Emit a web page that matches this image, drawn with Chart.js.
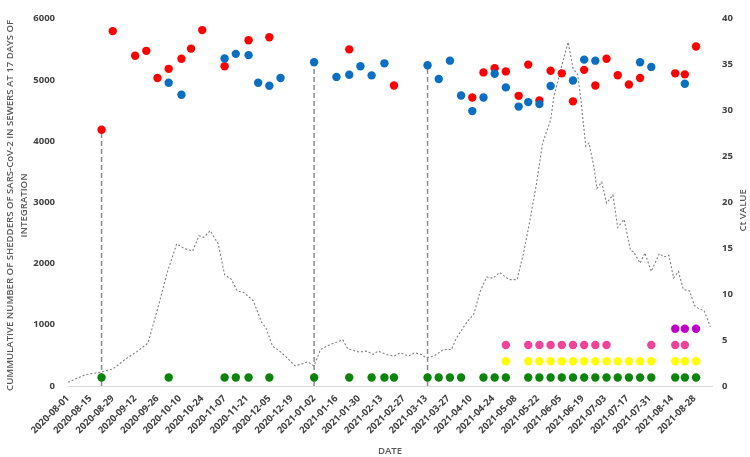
<!DOCTYPE html>
<html>
<head>
<meta charset="utf-8">
<script src="https://cdn.jsdelivr.net/npm/chart.js@4.4.1/dist/chart.umd.min.js"></script>
<style>
  html, body { margin: 0; padding: 0; background: #ffffff; }
  #wrap { width: 750px; height: 457px; position: relative; }
</style>
</head>
<body>
<div id="wrap"><canvas id="c"></canvas></div>
<script>
// ---------- DATA ----------
const tickDates = ['2020-08-01','2020-08-15','2020-08-29','2020-09-12','2020-09-26','2020-10-10','2020-10-24',
  '2020-11-07','2020-11-21','2020-12-05','2020-12-19','2021-01-02','2021-01-16','2021-01-30','2021-02-13',
  '2021-02-27','2021-03-13','2021-03-27','2021-04-10','2021-04-24','2021-05-08','2021-05-22','2021-06-05',
  '2021-06-19','2021-07-03','2021-07-17','2021-07-31','2021-08-14','2021-08-28'];

const shedderDates = ['2020-08-01','2020-08-12','2020-08-21','2020-08-29','2020-09-06','2020-09-13','2020-09-20',
  '2020-09-26','2020-10-02','2020-10-08','2020-10-13','2020-10-18','2020-10-22','2020-10-25','2020-10-29',
  '2020-11-03','2020-11-07','2020-11-11','2020-11-15','2020-11-19','2020-11-25','2020-11-30','2020-12-03',
  '2020-12-07','2020-12-11','2020-12-16','2020-12-21','2020-12-25','2020-12-29','2021-01-02','2021-01-06',
  '2021-01-12','2021-01-20','2021-01-23','2021-01-30','2021-02-04','2021-02-08','2021-02-11','2021-02-16',
  '2021-02-21','2021-02-25','2021-03-02','2021-03-06','2021-03-10','2021-03-13','2021-03-18','2021-03-24',
  '2021-03-29','2021-04-01','2021-04-07','2021-04-12','2021-04-16','2021-04-20','2021-04-24','2021-04-28',
  '2021-05-04','2021-05-09','2021-05-13','2021-05-17','2021-05-21','2021-05-25','2021-05-30','2021-06-01',
  '2021-06-05','2021-06-10','2021-06-13','2021-06-16','2021-06-18','2021-06-21','2021-06-23','2021-06-26',
  '2021-06-28','2021-07-01','2021-07-04','2021-07-08','2021-07-11','2021-07-15','2021-07-19','2021-07-21',
  '2021-07-25','2021-07-28','2021-08-01','2021-08-06','2021-08-09','2021-08-12','2021-08-15','2021-08-18',
  '2021-08-21','2021-08-25','2021-08-28','2021-08-31','2021-09-03','2021-09-07'];
const shedderValues = [60,186,223,277,440,560,700,
  1250,1844,2323,2243,2206,2455,2429,2535,
  2323,1817,1749,1553,1526,1393,1047,941,
  649,580,462,330,357,394,330,596,
  676,756,610,555,569,516,569,516,
  489,542,489,542,516,462,489,596,
  596,781,1020,1180,1550,1780,1760,1856,
  1738,1738,2163,2694,3279,3969,4342,4714,
  5140,5618,5192,5085,4661,3917,3969,3598,
  3227,3332,2987,3120,2589,2721,2216,2190,
  2004,2174,1871,2163,2110,2136,1765,1871,
  1578,1553,1314,1259,1234,968];

const redDates = ['2020-08-22','2020-08-29','2020-09-12','2020-09-19','2020-09-26','2020-10-03','2020-10-11',
  '2020-10-17','2020-10-24','2020-11-07','2020-11-22','2020-12-05','2021-01-24','2021-02-21','2021-04-11',
  '2021-04-18','2021-04-25','2021-05-02','2021-05-10','2021-05-16','2021-05-23','2021-05-30','2021-06-06',
  '2021-06-13','2021-06-20','2021-06-27','2021-07-04','2021-07-11','2021-07-18','2021-07-25','2021-08-16',
  '2021-08-22','2021-08-29'];
const redCt = [27.9,38.65,35.96,36.5,33.55,34.54,35.64,
  36.74,38.76,34.82,37.66,37.98,36.66,32.73,31.42,
  34.15,34.61,34.26,31.6,35.0,31.1,34.33,34.05,
  31.0,34.43,32.73,35.64,33.84,32.84,33.55,34.05,
  33.94,36.98];

const blueDates = ['2020-10-03','2020-10-11','2020-11-07','2020-11-14','2020-11-22','2020-11-28','2020-12-05',
  '2020-12-12','2021-01-02','2021-01-16','2021-01-24','2021-01-31','2021-02-07','2021-02-15','2021-03-14',
  '2021-03-21','2021-03-28','2021-04-04','2021-04-11','2021-04-18','2021-04-25','2021-05-02','2021-05-10',
  '2021-05-16','2021-05-23','2021-05-30','2021-06-13','2021-06-20','2021-06-27','2021-07-25','2021-08-01',
  '2021-08-22'];
const blueCt = [33.02,31.71,35.67,36.17,36.03,33.02,32.7,
  33.55,35.25,33.66,33.9,34.82,33.83,35.14,34.93,
  33.44,35.43,31.64,29.94,31.42,34.0,32.52,30.43,
  30.92,30.7,32.67,33.27,35.54,35.43,35.25,34.75,
  32.91];

const greenDates = ['2020-08-22','2020-10-03','2020-11-07','2020-11-14','2020-11-22','2020-12-05','2021-01-02',
  '2021-01-24','2021-02-07','2021-02-15','2021-02-21','2021-03-14','2021-03-21','2021-03-28','2021-04-04',
  '2021-04-18','2021-04-25','2021-05-02','2021-05-16','2021-05-23','2021-05-30','2021-06-06','2021-06-13',
  '2021-06-20','2021-06-27','2021-07-04','2021-07-11','2021-07-18','2021-07-25','2021-08-01','2021-08-16',
  '2021-08-22','2021-08-29'];
const yellowDates = ['2021-05-02','2021-05-16','2021-05-23','2021-05-30','2021-06-06','2021-06-13','2021-06-20',
  '2021-06-27','2021-07-04','2021-07-11','2021-07-18','2021-07-25','2021-08-01','2021-08-16','2021-08-22',
  '2021-08-29'];
const pinkDates = ['2021-05-02','2021-05-16','2021-05-23','2021-05-30','2021-06-06','2021-06-13','2021-06-20',
  '2021-06-27','2021-07-04','2021-08-01','2021-08-16','2021-08-22'];
const purpleDates = ['2021-08-16','2021-08-22','2021-08-29'];
const rowLevels = { green: 140, yellow: 405, pink: 670, purple: 935 };

const dashDates = ['2020-08-22','2021-01-02','2021-03-14'];
const dashTopCt = [27.9, 35.25, 34.93];

// ---------- HELPERS ----------
const DAY0 = Date.UTC(2020, 7, 1);
function dayOf(s) { const p = s.split('-').map(Number); return (Date.UTC(p[0], p[1] - 1, p[2]) - DAY0) / 86400000; }
function fmt(day) { return new Date(DAY0 + Math.round(day) * 86400000).toISOString().slice(0, 10); }
const pts = (dates, vals) => dates.map((d, i) => ({ x: dayOf(d), y: vals[i] }));
const row = (dates, level) => dates.map(d => ({ x: dayOf(d), y: level }));

const TICK_FONT = { family: 'Open Sans', size: 9.5, weight: 'bold' };
const TICK_COLOR = '#404040';

const datasets = [];
dashDates.forEach((d, i) => {
  datasets.push({ type: 'line', data: [{ x: dayOf(d), y: 0 }, { x: dayOf(d), y: dashTopCt[i] }], yAxisID: 'y1',
    borderColor: '#8c8c8c', borderWidth: 1.5, borderDash: [5, 3], pointRadius: 0, fill: false, order: 5 });
});
datasets.push({ type: 'line', data: pts(shedderDates, shedderValues), yAxisID: 'y',
  borderColor: '#7f7f7f', borderWidth: 1.1, borderDash: [2, 2], pointRadius: 0, tension: 0, fill: false, order: 4 });
const dot = (data, color, axis) => ({ type: 'scatter', data, yAxisID: axis, backgroundColor: color,
  borderColor: color, borderWidth: 0, pointRadius: 4.2, order: 1 });
datasets.push(dot(row(greenDates, rowLevels.green), '#0b840b', 'y'));
datasets.push(dot(row(yellowDates, rowLevels.yellow), '#ffff00', 'y'));
datasets.push(dot(row(pinkDates, rowLevels.pink), '#f0449a', 'y'));
datasets.push(dot(row(purpleDates, rowLevels.purple), '#c000c8', 'y'));
datasets.push(dot(pts(blueDates, blueCt), '#0a6fc2', 'y1'));
datasets.push(dot(pts(redDates, redCt), '#ff0000', 'y1'));

const titlesPlugin = {
  id: 'axisTitles',
  afterDraw(chart) {
    const { ctx, chartArea } = chart;
    const cy = (chartArea.top + chartArea.bottom) / 2;
    ctx.save();
    ctx.fillStyle = '#595959';
    ctx.font = '600 9.6px "Open Sans"';
    ctx.textAlign = 'center';
    ctx.textBaseline = 'middle';
    ctx.save();
    ctx.translate(10, cy + 3);
    ctx.rotate(-Math.PI / 2);
    ctx.fillText('CUMMULATIVE NUMBER OF SHEDDERS OF SARS-CoV-2 IN SEWERS AT 17 DAYS OF', 0, 0);
    ctx.fillText('INTEGRATION', 0, 14.5);
    ctx.restore();
    ctx.save();
    ctx.translate(743, cy + 8);
    ctx.rotate(-Math.PI / 2);
    ctx.fillText('Ct VALUE', 0, 0);
    ctx.restore();
    ctx.fillText('DATE', (chartArea.left + chartArea.right) / 2, 451);
    ctx.restore();
  }
};

new Chart(document.getElementById('c'), {
  data: { datasets },
  options: {
    responsive: true, maintainAspectRatio: false, animation: false,
    layout: { padding: { top: 9, left: 0, right: 0, bottom: 0 } },
    plugins: { legend: { display: false }, tooltip: { enabled: false } },
    scales: {
      x: {
        type: 'linear', min: 0, max: 403,
        afterBuildTicks: s => { s.ticks = tickDates.map(d => ({ value: dayOf(d) })); },
        afterFit: s => { s.height = 71; },
        grid: { display: false, drawTicks: false },
        border: { display: true, color: '#d9d9d9', width: 1 },
        ticks: { callback: v => fmt(v), autoSkip: false, maxRotation: 45, minRotation: 45,
          font: TICK_FONT, color: TICK_COLOR, padding: 7 }
      },
      y: {
        position: 'left', min: 0, max: 6000,
        afterFit: s => { s.width = 68; },
        grid: { display: false, drawTicks: false },
        border: { display: false },
        ticks: { stepSize: 1000, callback: v => String(v), font: TICK_FONT, color: TICK_COLOR, padding: 13 }
      },
      y1: {
        position: 'right', min: 0, max: 40,
        afterFit: s => { s.width = 38; },
        grid: { display: false, drawTicks: false },
        border: { display: false },
        ticks: { stepSize: 5, callback: v => String(v), font: TICK_FONT, color: TICK_COLOR, padding: 10 }
      }
    }
  },
  plugins: [titlesPlugin]
});
</script>
</body>
</html>
